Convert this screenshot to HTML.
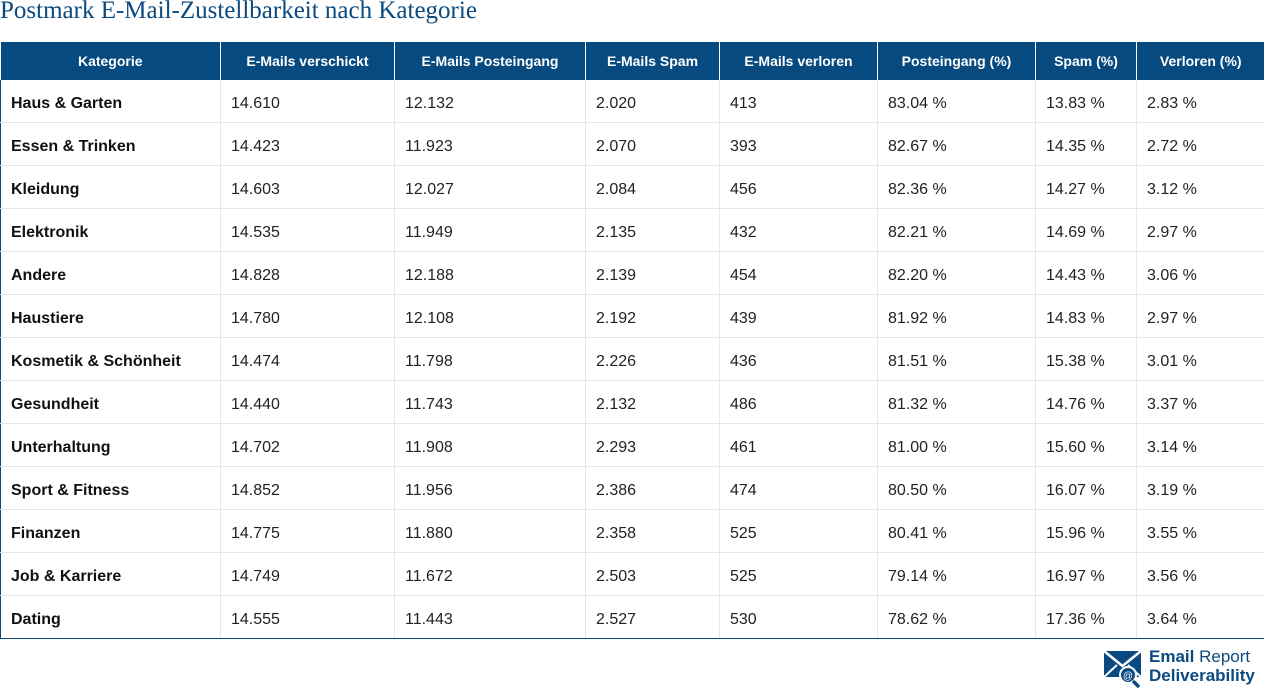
<!DOCTYPE html>
<html><head><meta charset="utf-8"><style>
body{margin:0;width:1264px;height:688px;background:#fff;position:relative;overflow:hidden;font-family:"Liberation Sans",sans-serif}
.t{position:absolute;left:0;top:-3px;font-family:"Liberation Serif",serif;font-size:25px;color:#0b4a80;white-space:nowrap}
table{position:absolute;left:0;top:42px;border-collapse:collapse;table-layout:fixed;width:1264px}
th{background:#064a80;color:#fff;font-size:14px;font-weight:bold;height:38px;padding:0;border-left:1px solid #fff;text-align:center}
th:first-child{border-left:none}
td{height:37px;padding:5px 0 0 10px;font-size:16px;color:#222;border-left:1px solid #e6e6e6;border-bottom:1px solid #e6e6e6}
td:first-child{font-weight:bold;color:#111;border-left:1px solid #0b4a80}
td:last-child{border-right:1px solid #0b4a80}
tr:last-child td{border-bottom:1px solid #0b4a80}
.logo{position:absolute;left:1104px;top:648px}
.lt{position:absolute;left:1149px;top:647px;color:#0b4a80;font-size:17px;line-height:19px;font-weight:bold}
</style></head><body>
<div class="t">Postmark E-Mail-Zustellbarkeit nach Kategorie</div>
<table>
<colgroup><col style="width:220px"><col style="width:174px"><col style="width:191px"><col style="width:134px"><col style="width:158px"><col style="width:158px"><col style="width:101px"><col style="width:128px"></colgroup>
<tr><th>Kategorie</th><th>E-Mails verschickt</th><th>E-Mails Posteingang</th><th>E-Mails Spam</th><th>E-Mails verloren</th><th>Posteingang (%)</th><th>Spam (%)</th><th>Verloren (%)</th></tr>
<tr><td>Haus &amp; Garten</td><td>14.610</td><td>12.132</td><td>2.020</td><td>413</td><td>83.04 %</td><td>13.83 %</td><td>2.83 %</td></tr>
<tr><td>Essen &amp; Trinken</td><td>14.423</td><td>11.923</td><td>2.070</td><td>393</td><td>82.67 %</td><td>14.35 %</td><td>2.72 %</td></tr>
<tr><td>Kleidung</td><td>14.603</td><td>12.027</td><td>2.084</td><td>456</td><td>82.36 %</td><td>14.27 %</td><td>3.12 %</td></tr>
<tr><td>Elektronik</td><td>14.535</td><td>11.949</td><td>2.135</td><td>432</td><td>82.21 %</td><td>14.69 %</td><td>2.97 %</td></tr>
<tr><td>Andere</td><td>14.828</td><td>12.188</td><td>2.139</td><td>454</td><td>82.20 %</td><td>14.43 %</td><td>3.06 %</td></tr>
<tr><td>Haustiere</td><td>14.780</td><td>12.108</td><td>2.192</td><td>439</td><td>81.92 %</td><td>14.83 %</td><td>2.97 %</td></tr>
<tr><td>Kosmetik &amp; Schönheit</td><td>14.474</td><td>11.798</td><td>2.226</td><td>436</td><td>81.51 %</td><td>15.38 %</td><td>3.01 %</td></tr>
<tr><td>Gesundheit</td><td>14.440</td><td>11.743</td><td>2.132</td><td>486</td><td>81.32 %</td><td>14.76 %</td><td>3.37 %</td></tr>
<tr><td>Unterhaltung</td><td>14.702</td><td>11.908</td><td>2.293</td><td>461</td><td>81.00 %</td><td>15.60 %</td><td>3.14 %</td></tr>
<tr><td>Sport &amp; Fitness</td><td>14.852</td><td>11.956</td><td>2.386</td><td>474</td><td>80.50 %</td><td>16.07 %</td><td>3.19 %</td></tr>
<tr><td>Finanzen</td><td>14.775</td><td>11.880</td><td>2.358</td><td>525</td><td>80.41 %</td><td>15.96 %</td><td>3.55 %</td></tr>
<tr><td>Job &amp; Karriere</td><td>14.749</td><td>11.672</td><td>2.503</td><td>525</td><td>79.14 %</td><td>16.97 %</td><td>3.56 %</td></tr>
<tr><td>Dating</td><td>14.555</td><td>11.443</td><td>2.527</td><td>530</td><td>78.62 %</td><td>17.36 %</td><td>3.64 %</td></tr>
</table>
<svg class="logo" width="40" height="40" viewBox="0 0 40 40">
<rect x="0" y="3" width="37" height="26" fill="#0b4a80"/>
<path d="M0 3 L18.5 18 L37 3" fill="none" stroke="#fff" stroke-width="2.5"/>
<path d="M0 29 L13 17 M37 29 L24 17" stroke="#fff" stroke-width="2"/>
<circle cx="24" cy="27" r="8" fill="#0b4a80" stroke="#fff" stroke-width="2"/>
<line x1="29" y1="33" x2="35" y2="39" stroke="#0b4a80" stroke-width="3.5"/>
<text x="24" y="31" font-size="10" fill="#fff" text-anchor="middle" font-family="Liberation Sans">@</text>
</svg>
<div class="lt">Email <span style="font-weight:normal">Report</span><br>Deliverability</div>
</body></html>
